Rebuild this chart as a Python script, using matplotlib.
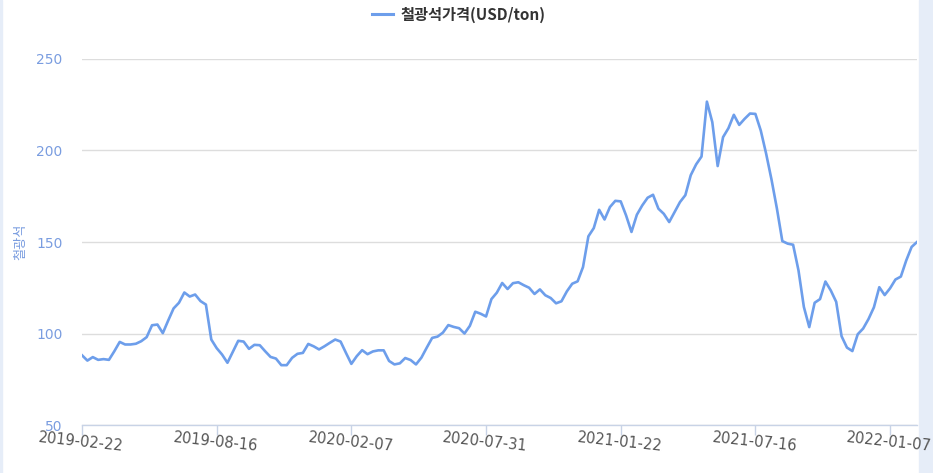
import matplotlib
matplotlib.use("Agg")
import matplotlib.pyplot as plt
import pandas as pd
from matplotlib.patches import Rectangle

plt.rcParams['font.family'] = ['Noto Sans CJK KR', 'DejaVu Sans']

# weekly iron ore price, USD/ton
dates = pd.date_range("2019-02-22", periods=156, freq="7D")
prices = [
    88.1, 85.2, 87.1, 85.6, 86.0, 85.6, 90.3, 95.4, 94.0, 94.0,
    94.4, 95.8, 98.0, 104.5, 104.9, 100.2, 107.1, 113.7, 116.8, 122.4,
    120.2, 121.3, 117.7, 115.8, 96.7, 92.0, 88.5, 84.0, 90.0, 96.0,
    95.6, 91.6, 93.8, 93.6, 90.3, 87.2, 86.3, 82.7, 82.7, 86.7,
    88.9, 89.4, 94.3, 93.0, 91.3, 93.0, 94.9, 96.7, 95.6, 89.4,
    83.4, 87.6, 90.9, 88.7, 90.2, 90.8, 90.8, 85.0, 83.1, 83.7,
    86.6, 85.5, 83.1, 86.8, 92.3, 97.6, 98.3, 100.5, 104.6, 103.6,
    102.9, 100.0, 104.2, 111.9, 110.8, 109.3, 118.8, 122.3, 127.6, 124.3,
    127.5, 128.0, 126.4, 125.0, 121.6, 124.1, 120.9, 119.4, 116.5, 117.6,
    123.0, 127.2, 128.5, 136.3, 153.1, 157.6, 167.6, 162.3, 169.1, 172.5,
    172.2, 164.5, 155.5, 164.9, 170.0, 174.2, 175.8, 168.2, 165.4, 160.9,
    166.4, 171.8, 175.6, 186.5, 192.4, 196.7, 226.7, 215.5, 191.5, 207.3,
    212.2, 219.5, 214.0, 217.3, 220.2, 220.0, 210.9, 198.2, 184.0, 168.2,
    150.5, 149.1, 148.5, 134.5, 114.5, 103.5, 116.8, 118.8, 128.4, 123.5,
    117.3, 98.5, 92.3, 90.4, 99.6, 102.7, 107.9, 114.3, 125.3, 121.0,
    124.7, 129.5, 131.1, 139.9, 147.3, 150.0,
]
labels = [d.strftime("%Y-%m-%d") for d in dates]
tick_idx = list(range(0, 156, 25))
y_ticks = [50, 100, 150, 200, 250]

line_color = "#6d9eeb"
label_blue = "#7a9de0"

fig = plt.figure(figsize=(9.33, 4.73), dpi=100)
fig.patches.append(Rectangle((919 / 933, 0), 14 / 933, 1, transform=fig.transFigure,
                             color="#e6edf8", zorder=-1))
fig.patches.append(Rectangle((0, 0), 2 / 933, 1, transform=fig.transFigure,
                             color="#e6edf8", zorder=-1))

ax = fig.add_axes([82 / 933, 1 - 425 / 473, 835 / 933, 366 / 473])
ax.set_zorder(1)
x = list(range(len(prices)))
ax.plot(x, prices, color=line_color, lw=1.9, solid_joinstyle="round",
        label="철광석가격(USD/ton)")

ax.set_xlim(0, len(prices) - 1)
ax.set_ylim(50, 250)
ax.set_yticks(y_ticks)
ax.set_xticks(tick_idx)
ax.set_xticklabels([labels[i] for i in tick_idx], rotation=-6, ha="center",
                   va="top", rotation_mode="anchor", family="DejaVu Sans",
                   fontsize=10.5, color="#555555")
ax.tick_params(axis="x", length=7, width=1, color="#c8d3e6", pad=0)
ax.tick_params(axis="y", length=0, pad=14, labelsize=10, labelcolor=label_blue)
for t in ax.get_yticklabels():
    t.set_family("DejaVu Sans")

ax.grid(axis="y", color="#dddddd", lw=1)
ax.set_axisbelow(True)
for s in ["top", "right", "left"]:
    ax.spines[s].set_visible(False)
ax.spines["bottom"].set_color("#c8d3e6")
ax.spines["bottom"].set_linewidth(1)

ax.set_ylabel("철광석", color=label_blue, fontsize=9.5)
ax.yaxis.set_label_coords(-0.066, 0.5)

fig.legend(loc="center", bbox_to_anchor=(0.4915, 0.969), frameon=False,
           handlelength=1.4, handletextpad=0.5,
           prop={"size": 11, "weight": "bold"}, labelcolor="#333333")
leg = fig.legends[0]
for h in leg.get_lines():
    h.set_linewidth(2.2)

fig.savefig("out.png", dpi=100)
